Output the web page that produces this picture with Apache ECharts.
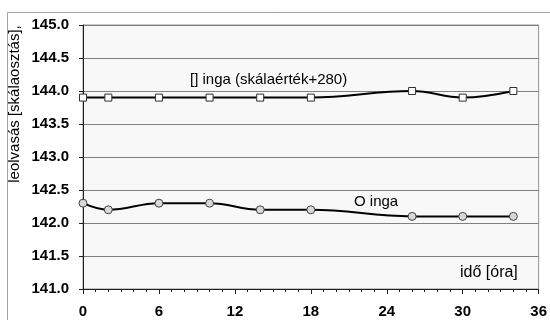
<!DOCTYPE html>
<html>
<head>
<meta charset="utf-8">
<script src="https://cdn.jsdelivr.net/npm/echarts@6/dist/echarts.min.js"></script>
<style>
  html, body { margin: 0; padding: 0; background: #fff; }
  #chart { width: 550px; height: 320px; }
</style>
</head>
<body>
<div id="chart"></div>
<script>
// idő [óra]
const hours = [0, 2, 6, 10, 14, 18, 26, 30, 34]
// [] inga (skálaérték+280)
const squareInga = [143.9, 143.9, 143.9, 143.9, 143.9, 143.9, 144.0, 143.9, 144.0]
// O inga
const circleInga = [142.3, 142.2, 142.3, 142.3, 142.2, 142.2, 142.1, 142.1, 142.1]

const font = 'Liberation Sans, Arial, sans-serif'

const chart = echarts.init(document.getElementById('chart'))

const option = {
  animation: false,
  grid: {
    left: 83,
    right: 7,
    top: 25,
    bottom: 31,
    show: true,
    backgroundColor: '#f8f8f8',
    borderColor: '#909090',
    borderWidth: 1
  },
  graphic: [
    {
      type: 'rect',
      shape: { x: 7.5, y: 12.5, width: 600, height: 400 },
      style: { fill: 'none', stroke: '#a0a0a0', lineWidth: 1 },
      z: 0
    },
    {
      type: 'text',
      x: 15,
      y: 104,
      rotation: Math.PI / 2,
      style: {
        text: 'leolvasás [skálaosztás],',
        font: '15px ' + font,
        fill: '#000',
        align: 'center',
        verticalAlign: 'middle'
      }
    },
    {
      type: 'text',
      x: 190,
      y: 80,
      style: {
        text: '[] inga (skálaérték+280)',
        font: '15px ' + font,
        fill: '#000',
        verticalAlign: 'middle'
      }
    },
    {
      type: 'text',
      x: 354,
      y: 202,
      style: {
        text: 'O inga',
        font: '15px ' + font,
        fill: '#000',
        verticalAlign: 'middle'
      }
    },
    {
      type: 'text',
      x: 460,
      y: 273,
      style: {
        text: 'idő [óra]',
        font: '16px ' + font,
        fill: '#000',
        verticalAlign: 'middle'
      }
    }
  ],
  xAxis: {
    type: 'value',
    min: 0,
    max: 36,
    interval: 6,
    axisLine: { lineStyle: { color: '#202020', width: 1 } },
    axisTick: { show: true, length: 5, lineStyle: { color: '#202020' } },
    minorTick: { show: true, splitNumber: 6, length: 3, lineStyle: { color: '#202020' } },
    axisLabel: {
      color: '#000',
      fontFamily: font,
      fontSize: 15,
      fontWeight: 'bold',
      margin: 15
    },
    splitLine: { show: false }
  },
  yAxis: {
    type: 'value',
    min: 141,
    max: 145,
    interval: 0.5,
    axisLine: { show: true, lineStyle: { color: '#202020', width: 1 } },
    axisTick: { show: true, length: 4, lineStyle: { color: '#202020' } },
    axisLabel: {
      color: '#000',
      fontFamily: font,
      fontSize: 15,
      fontWeight: 'bold',
      margin: 14,
      formatter: v => v.toFixed(1)
    },
    splitLine: { show: true, lineStyle: { color: '#808080', width: 1 } }
  },
  series: [
    {
      name: '[] inga',
      type: 'line',
      data: hours.map((h, i) => [h, squareInga[i]]),
      smooth: 0.4,
      symbol: 'rect',
      symbolSize: 7,
      lineStyle: { color: '#000', width: 2 },
      itemStyle: { color: '#fff', borderColor: '#303030', borderWidth: 1 }
    },
    {
      name: 'O inga',
      type: 'line',
      data: hours.map((h, i) => [h, circleInga[i]]),
      smooth: 0.4,
      symbol: 'circle',
      symbolSize: 8,
      lineStyle: { color: '#000', width: 2 },
      itemStyle: { color: '#d8d8d8', borderColor: '#404040', borderWidth: 1 }
    }
  ]
}

chart.setOption(option)
</script>
</body>
</html>
